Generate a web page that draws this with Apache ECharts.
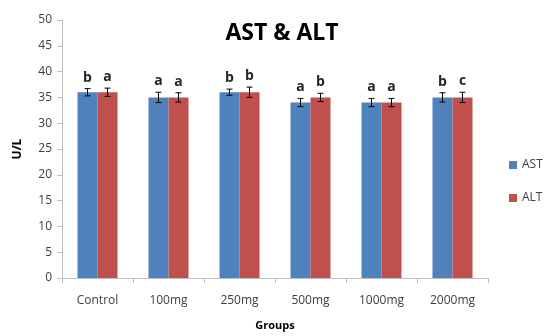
<!DOCTYPE html>
<html><head><meta charset="utf-8">
<script src="https://cdn.jsdelivr.net/npm/echarts@6/dist/echarts.min.js"></script>
<style>html,body{margin:0;padding:0;background:#fff}#c{width:553px;height:336px}</style>
</head><body><div id="c"></div>
<script>
const categories = ['Control','100mg','250mg','500mg','1000mg','2000mg'];
const astValues = [36, 35, 36, 34, 34, 35];
const altValues = [36, 35, 36, 35, 34, 35];
const astErrors = [0.7, 1.0, 0.6, 0.8, 0.8, 0.9];
const altErrors = [0.8, 0.9, 1.0, 0.8, 0.8, 1.0];
const astLetters = ['b','a','b','a','a','b'];
const altLetters = ['a','a','b','b','a','c'];
const yTicks = [0,5,10,15,20,25,30,35,40,45,50];

const FONT = '"Open Sans", "Liberation Sans", sans-serif';
const BW = 20;

function errSeries(vals, errs, letters, side, name) {
  return {
    type: 'custom', name: name + '_err', z: 10,
    data: vals.map((v, i) => [i, v, errs[i], letters[i]]),
    renderItem: function (params, api) {
      const i = api.value(0), v = api.value(1), e = api.value(2);
      const base = api.coord([i, v]);
      const x = base[0] + side * BW / 2;
      const top = api.coord([i, v + e])[1];
      const bot = api.coord([i, v - e])[1];
      const cap = 3;
      const st = { stroke: '#000', lineWidth: 1 };
      return {
        type: 'group',
        children: [
          { type: 'line', shape: { x1: x, y1: top, x2: x, y2: bot }, style: st },
          { type: 'line', shape: { x1: x - cap, y1: top, x2: x + cap, y2: top }, style: st },
          { type: 'line', shape: { x1: x - cap, y1: bot, x2: x + cap, y2: bot }, style: st },
          { type: 'text', style: { text: letters[i], x: x, y: top - 4, textAlign: 'center', textVerticalAlign: 'bottom',
              font: 'bold 14px ' + FONT, fill: '#262626' } }
        ]
      };
    },
    tooltip: { show: false }
  };
}

const chart = echarts.init(document.getElementById('c'));
chart.setOption({
  animation: false,
  title: { text: 'AST & ALT', left: 277, top: 17, textAlign: 'center',
    textStyle: { fontFamily: FONT, fontWeight: 'bold', fontSize: 23, color: '#000' } },
  legend: {
    data: ['AST', 'ALT'], orient: 'vertical', left: 504, top: 154, itemGap: 21,
    itemWidth: 8, itemHeight: 8, icon: 'rect',
    textStyle: { fontFamily: FONT, fontSize: 12, color: '#404040' }
  },
  grid: { left: 62, right: 65, top: 20, bottom: 58 },
  xAxis: {
    type: 'category', data: categories, name: 'Groups', nameLocation: 'middle', nameGap: 42,
    nameTextStyle: { fontFamily: FONT, fontWeight: 'bold', fontSize: 11, color: '#000' },
    axisLine: { lineStyle: { color: '#bfbfbf' } },
    axisTick: { show: true, alignWithLabel: false, length: 5, lineStyle: { color: '#bfbfbf' } },
    axisLabel: { fontFamily: FONT, fontSize: 12, color: '#404040', margin: 17 }
  },
  yAxis: {
    type: 'value', min: 0, max: 50, interval: 5, name: 'U/L', nameLocation: 'middle', nameGap: 38,
    nameTextStyle: { fontFamily: FONT, fontWeight: 'bold', fontSize: 12, color: '#000' },
    axisLine: { show: true, lineStyle: { color: '#bfbfbf' } },
    axisTick: { show: true, length: 5, lineStyle: { color: '#bfbfbf' } },
    splitLine: { show: false },
    axisLabel: { fontFamily: FONT, fontSize: 12, color: '#404040', margin: 10,
      formatter: v => yTicks.includes(v) ? String(v) : '' }
  },
  series: [
    { name: 'AST', type: 'bar', data: astValues, barWidth: BW, barGap: '0%', itemStyle: { color: '#4F81BD' } },
    { name: 'ALT', type: 'bar', data: altValues, barWidth: BW, barGap: '0%', itemStyle: { color: '#C0504D' } },
    errSeries(astValues, astErrors, astLetters, -1, 'AST'),
    errSeries(altValues, altErrors, altLetters, 1, 'ALT')
  ]
});
</script></body></html>
